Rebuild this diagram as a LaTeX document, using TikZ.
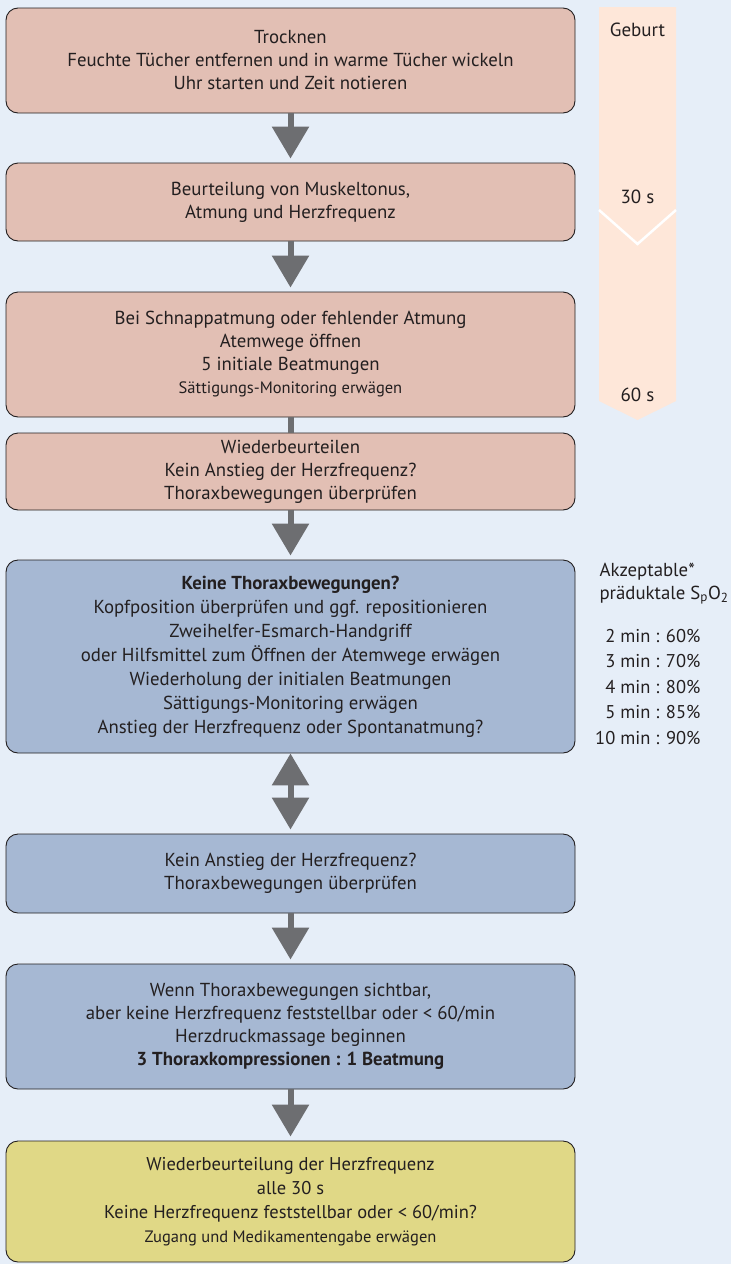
\documentclass[tikz,border=0pt]{standalone}
\usepackage{fontspec}
\setmainfont{PT Sans}
\usepackage{tikz}
\usetikzlibrary{arrows.meta, positioning, calc}
\definecolor{Mist}{HTML}{E6EEF8}
\definecolor{Rose}{HTML}{E2BFB4}
\definecolor{Steel}{HTML}{A6B8D3}
\definecolor{Straw}{HTML}{E0D886}
\definecolor{Peach}{HTML}{FEE7D9}
\definecolor{Slate}{HTML}{6D6E71}
\definecolor{Ink}{HTML}{231F20}
\newcommand{\smallnote}[1]{{\fontsize{16.5}{20}\selectfont #1}}
\tikzset{
    stepbox/.style={rectangle, rounded corners=12pt, draw=Ink, line width=0.9pt,
          text=Ink, minimum width=569pt, inner sep=0pt, align=center,
          font=\fontsize{18.8}{23}\selectfont},
    flowarrow/.style={draw=Slate, line width=6pt,
          -{Triangle[width=36pt,length=32pt]}, shorten >=4pt},
    timelabel/.style={text=Ink, font=\fontsize{19}{23}\selectfont}
}

\begin{document}
\begin{tikzpicture}[x=1pt, y=-1pt]
    % Background
    \fill[Mist] (0,0) rectangle (731,1264);
    \useasboundingbox (0,0) rectangle (731,1264);

    % Time line
    \fill[Peach] (599,7) -- (676,7) -- (676,401) -- (637.5,420) -- (599,401) -- cycle;
    \draw[white, line width=2.5pt] (599,210) -- (637.5,244) -- (676,210);
    \node[timelabel] (tBirth) at (637.5,30) {Geburt};
    \node[timelabel] (tHalf) at (637.5,197) {30 s};
    \node[timelabel] (tFull) at (637.5,395) {60 s};

    % Steps
    \node[stepbox, fill=Rose, minimum height=105pt] (b1) at (290.5,60.5) {Trocknen\\
        Feuchte Tücher entfernen und in warme Tücher wickeln\\
        Uhr starten und Zeit notieren};

    \node[stepbox, fill=Rose, minimum height=78pt] (b2) at (290.5,202) {Beurteilung von Muskeltonus,\\
        Atmung und Herzfrequenz};

    \node[stepbox, fill=Rose, minimum height=125pt] (b3) at (290.5,354.5) {Bei Schnappatmung oder fehlender Atmung\\
        Atemwege öffnen\\
        5 initiale Beatmungen\\
        \smallnote{Sättigungs-Monitoring erwägen}};

    \node[stepbox, fill=Rose, minimum height=77pt] (b4) at (290.5,471.5) {Wiederbeurteilen\\
        Kein Anstieg der Herzfrequenz?\\
        Thoraxbewegungen überprüfen};

    \node[stepbox, fill=Steel, minimum height=193pt,
          font=\fontsize{18.8}{24}\selectfont] (b5) at (290.5,656.5) {\textbf{Keine Thoraxbewegungen?}\\
        Kopfposition überprüfen und ggf. repositionieren\\
        Zweihelfer-Esmarch-Handgriff\\
        oder Hilfsmittel zum Öffnen der Atemwege erwägen\\
        Wiederholung der initialen Beatmungen\\
        Sättigungs-Monitoring erwägen\\
        Anstieg der Herzfrequenz oder Spontanatmung?};

    \node[stepbox, fill=Steel, minimum height=79pt] (b6) at (290.5,873.5) {Kein Anstieg der Herzfrequenz?\\
        Thoraxbewegungen überprüfen};

    \node[stepbox, fill=Steel, minimum height=125pt] (b7) at (290.5,1026.5) {Wenn Thoraxbewegungen sichtbar,\\
        aber keine Herzfrequenz feststellbar oder < 60/min\\
        Herzdruckmassage beginnen\\
        \textbf{3 Thoraxkompressionen : 1 Beatmung}};

    \node[stepbox, fill=Straw, minimum height=121pt,
          font=\fontsize{18.5}{24}\selectfont] (b8) at (290.5,1201.5) {Wiederbeurteilung der Herzfrequenz\\
        alle 30 s\\
        Keine Herzfrequenz feststellbar oder < 60/min?\\
        \smallnote{Zugang und Medikamentengabe erwägen}};

    % Target saturation
    \node[anchor=west, align=left, text=Ink, font=\fontsize{18.8}{23}\selectfont] (spoHead) at (596,583.5) {Akzeptable*\\
        präduktale S\textsubscript{p}O\textsubscript{2}};
    \node[anchor=east, align=right, text=Ink, font=\fontsize{18.5}{25.5}\selectfont] (spoVals) at (704,687) {2 min : 60\%\\
        3 min : 70\%\\
        4 min : 80\%\\
        5 min : 85\%\\
        10 min : 90\%};

    % Connectors
    \draw[flowarrow] (b1) -- (b2);
    \draw[flowarrow] (b2) -- (b3);
    \draw[draw=Slate, line width=6pt] (b3) -- (b4);
    \draw[flowarrow] (b4) -- (b5);
    \draw[flowarrow, {Triangle[width=36pt,length=32pt]}-{Triangle[width=36pt,length=32pt]}] (b5) -- (b6);
    \draw[flowarrow] (b6) -- (b7);
    \draw[flowarrow] (b7) -- (b8);
\end{tikzpicture}
\end{document}
